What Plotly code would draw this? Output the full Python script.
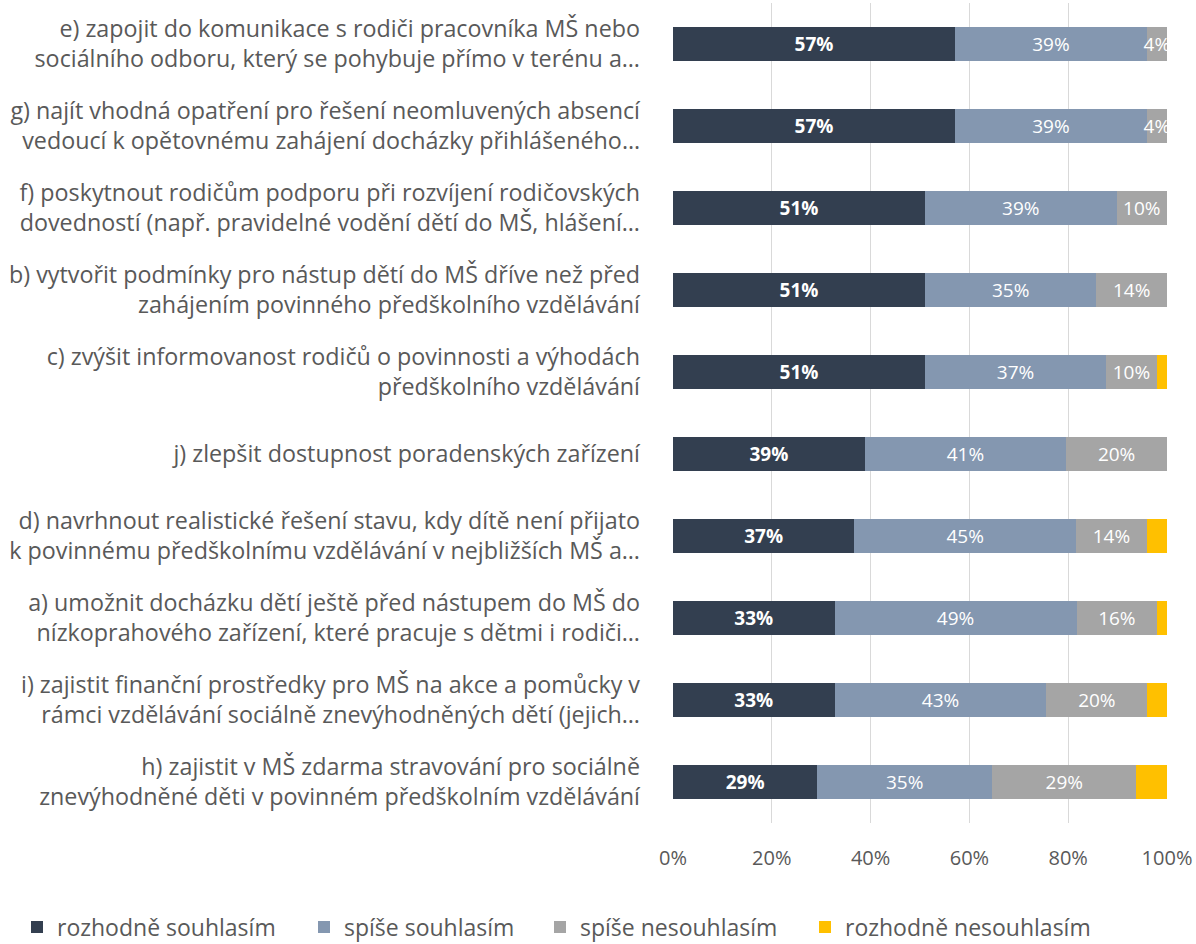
import plotly.graph_objects as go

categories = [
    "e) zapojit do komunikace s rodiči pracovníka MŠ nebo<br>sociálního odboru, který se pohybuje přímo v terénu a…",
    "g) najít vhodná opatření pro řešení neomluvených absencí<br>vedoucí k opětovnému zahájení docházky přihlášeného…",
    "f) poskytnout rodičům podporu při rozvíjení rodičovských<br>dovedností (např. pravidelné vodění dětí do MŠ, hlášení…",
    "b) vytvořit podmínky pro nástup dětí do MŠ dříve než před<br>zahájením povinného předškolního vzdělávání",
    "c) zvýšit informovanost rodičů o povinnosti a výhodách<br>předškolního vzdělávání",
    "j) zlepšit dostupnost poradenských zařízení",
    "d) navrhnout realistické řešení stavu, kdy dítě není přijato<br>k povinnému předškolnímu vzdělávání v nejbližších MŠ a…",
    "a) umožnit docházku dětí ještě před nástupem do MŠ do<br>nízkoprahového zařízení, které pracuje s dětmi i rodiči…",
    "i) zajistit finanční prostředky pro MŠ na akce a pomůcky v<br>rámci vzdělávání sociálně znevýhodněných dětí (jejich…",
    "h) zajistit v MŠ zdarma stravování pro sociálně<br>znevýhodněné děti v povinném předškolním vzdělávání",
]

series_names = ["rozhodně souhlasím", "spíše souhlasím", "spíše nesouhlasím", "rozhodně nesouhlasím"]
rozhodne_souhlasim = [57.1, 57.1, 51.0, 51.0, 51.0, 38.8, 36.7, 32.7, 32.7, 29.2]
spise_souhlasim = [38.8, 38.8, 38.8, 34.7, 36.7, 40.8, 44.9, 49.0, 42.9, 35.4]
spise_nesouhlasim = [4.1, 4.1, 10.2, 14.3, 10.2, 20.4, 14.3, 16.3, 20.4, 29.2]
rozhodne_nesouhlasim = [0.0, 0.0, 0.0, 0.0, 2.0, 0.0, 4.1, 2.0, 4.1, 6.2]

tick_values = [0, 20, 40, 60, 80, 100]
tick_labels = ["0%", "20%", "40%", "60%", "80%", "100%"]

colors = ["#333F50", "#8497B0", "#A5A5A5", "#FFC000"]
values = [rozhodne_souhlasim, spise_souhlasim, spise_nesouhlasim, rozhodne_nesouhlasim]
show_labels = [True, True, True, False]
bold = [True, False, False, False]
legend_ids = ["legend", "legend2", "legend3", "legend4"]
legend_x_px = [17, 304, 540, 805]

font_family = "'Open Sans', sans-serif"
FIG_W, FIG_H = 1196, 944

fig = go.Figure()
for name, vals, col, sl, b, lid in zip(series_names, values, colors, show_labels, bold, legend_ids):
    if sl:
        txt = [(f"<b>{round(v):.0f}%</b>" if b else f"{round(v):.0f}%") if v > 0 else "" for v in vals]
    else:
        txt = None
    fig.add_trace(go.Bar(
        name=name,
        y=categories,
        x=vals,
        orientation="h",
        marker=dict(color=col, line=dict(width=0)),
        text=txt,
        textposition="inside" if sl else "none",
        insidetextanchor="middle",
        constraintext="none",
        textangle=0,
        textfont=dict(color="white", size=19, family=font_family),
        hoverinfo="skip",
        legend=lid,
        showlegend=True,
    ))

legend_common = dict(
    orientation="h",
    xref="container", yref="container",
    xanchor="left", yanchor="middle",
    y=0.018,
    font=dict(size=23, color="#595959", family=font_family),
    itemwidth=30,
    bgcolor="rgba(0,0,0,0)",
)
layout_legends = {}
for lid, xp in zip(legend_ids, legend_x_px):
    layout_legends[lid] = dict(legend_common, x=xp / FIG_W)

fig.update_layout(
    barmode="stack",
    bargap=0.585,
    width=FIG_W,
    height=FIG_H,
    showlegend=True,
    margin=dict(l=673, r=29, t=3, b=121),
    paper_bgcolor="white",
    plot_bgcolor="white",
    font=dict(family=font_family, color="#595959", size=20),
    xaxis=dict(
        range=[0, 100],
        tickvals=tick_values,
        ticktext=tick_labels,
        showgrid=True,
        gridcolor="#D9D9D9",
        gridwidth=1.3,
        zeroline=False,
        showline=False,
        ticklabelstandoff=21,
        ticklabeloverflow="allow",
        tickfont=dict(size=20, color="#595959"),
        fixedrange=True,
        automargin=False,
    ),
    yaxis=dict(
        categoryorder="array",
        categoryarray=categories,
        autorange="reversed",
        showgrid=False,
        tickfont=dict(size=23.3, color="#595959"),
        ticklabelstandoff=32,
        ticklabeloverflow="allow",
        fixedrange=True,
        automargin=False,
    ),
    **layout_legends,
)

fig.write_html(
    "out.html",
    config={"displayModeBar": False, "staticPlot": True},
    post_script="document.body.style.margin='0px';",
)
